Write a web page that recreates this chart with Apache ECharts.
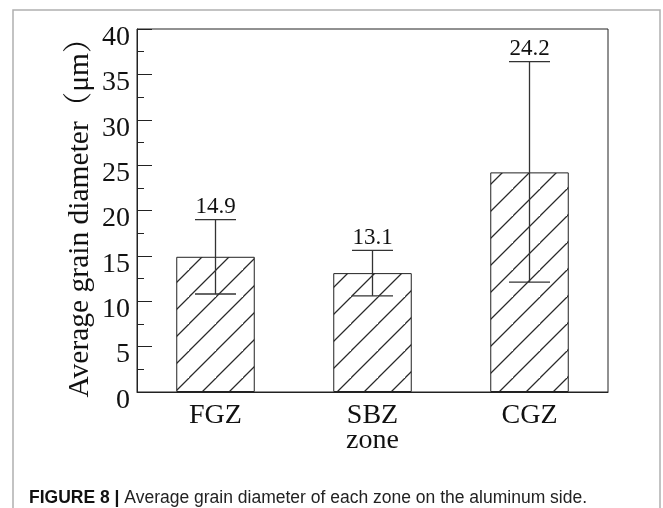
<!DOCTYPE html>
<html>
<head>
<meta charset="utf-8">
<script src="https://cdn.jsdelivr.net/npm/echarts@6/dist/echarts.min.js"></script>
<style>
html,body{margin:0;padding:0;background:#fff;}
#chart{width:663px;height:508px;}
</style>
</head>
<body>
<div id="chart"></div>
<script>
var categories = ['FGZ', 'SBZ', 'CGZ'];
var meanValues = [14.9, 13.1, 24.2];
var errorLow = [10.8, 10.6, 12.1];
var errorHigh = [19.0, 15.6, 36.4];
var yTicks = [0, 5, 10, 15, 20, 25, 30, 35, 40];
var yAxisTitle = 'Average grain diameter（μm）';
var xAxisTitle = 'zone';
var captionBold = 'FIGURE 8 | ';
var captionText = 'Average grain diameter of each zone on the aluminum side.';

var SERIF = "'Liberation Serif','Times New Roman','Noto Serif CJK SC','Noto Sans CJK SC',serif";
var SANS = "'Liberation Sans',Arial,Helvetica,sans-serif";

// hatch pattern tile
var tile = document.createElement('canvas');
var T = 27;
tile.width = T; tile.height = T;
var g = tile.getContext('2d');
g.fillStyle = '#fff';
g.fillRect(0, 0, T, T);
g.strokeStyle = '#2a2a2a';
g.lineWidth = 1.25;
g.beginPath();
g.moveTo(-2, T + 2); g.lineTo(T + 2, -2);
g.moveTo(-2 - T, T + 2); g.lineTo(2, -2);
g.moveTo(T - 2, 2*T + 2); g.lineTo(2*T + 2, T - 2);
g.stroke();

var chart = echarts.init(document.getElementById('chart'), null, {renderer: 'canvas'});

var errData = categories.map(function (c, i) {
  return [i, errorLow[i], errorHigh[i], meanValues[i]];
});

chart.setOption({
  animation: false,
  backgroundColor: '#fff',
  graphic: [
    {type: 'rect', shape: {x: 13, y: 10, width: 647, height: 520}, style: {fill: 'none', stroke: '#b0b0b0', lineWidth: 1.5}, z: -1},
    {type: 'text', left: 29, top: 489, style: {
      text: '{b|' + captionBold + '}{r|' + captionText + '}',
      rich: {
        b: {fontFamily: SANS, fontWeight: 'bold', fontSize: 17.5, fill: '#111'},
        r: {fontFamily: SANS, fontSize: 17.5, fill: '#222'}
      }
    }}
  ],
  grid: {left: 137, top: 29, right: 55, bottom: 116, show: true, borderColor: '#222', borderWidth: 1, backgroundColor: 'transparent'},
  xAxis: {
    type: 'category',
    data: categories,
    axisLine: {lineStyle: {color: '#222', width: 1}},
    axisTick: {show: false},
    axisLabel: {fontFamily: SERIF, fontSize: 28, color: '#111', margin: 10},
    name: xAxisTitle,
    nameLocation: 'middle',
    nameGap: 35,
    nameMoveOverlap: false,
    nameTextStyle: {fontFamily: SERIF, fontSize: 28, color: '#111'}
  },
  yAxis: {
    type: 'value',
    min: 0, max: 40, interval: 5,
    axisLine: {show: true, lineStyle: {color: '#222', width: 1}},
    axisTick: {show: true, inside: true, length: 15, lineStyle: {color: '#222'}},
    minorTick: {show: true, splitNumber: 2, length: 7, lineStyle: {color: '#222'}},
    splitLine: {show: false},
    axisLabel: {
      fontFamily: SERIF, fontSize: 28, color: '#111', margin: 7,
      formatter: function (v) { return yTicks.indexOf(v) >= 0 ? '{a|' + v + '}' : ''; },
      rich: {a: {fontFamily: SERIF, fontSize: 28, color: '#111', padding: [17, 0, 0, 0]}}
    },
    name: yAxisTitle,
    nameLocation: 'middle',
    nameGap: 42,
    nameMoveOverlap: false,
    nameRotate: 90,
    nameTextStyle: {fontFamily: SERIF, fontSize: 29.5, color: '#111'}
  },
  series: [
    {
      type: 'bar',
      data: meanValues,
      barWidth: '50%',
      itemStyle: {color: {image: tile, repeat: 'repeat'}, borderColor: '#222', borderWidth: 1},
      z: 2
    },
    {
      type: 'custom',
      data: errData,
      z: 5,
      renderItem: function (params, api) {
        var x = api.value(0);
        var lo = api.coord([x, api.value(1)]);
        var hi = api.coord([x, api.value(2)]);
        var half = 20.5;
        var st = {stroke: '#333', lineWidth: 1.3};
        return {
          type: 'group',
          children: [
            {type: 'line', shape: {x1: lo[0], y1: lo[1], x2: hi[0], y2: hi[1]}, style: st},
            {type: 'line', shape: {x1: lo[0] - half, y1: lo[1], x2: lo[0] + half, y2: lo[1]}, style: st},
            {type: 'line', shape: {x1: hi[0] - half, y1: hi[1], x2: hi[0] + half, y2: hi[1]}, style: st},
            {type: 'text', x: hi[0], y: hi[1] - 1, style: {
              text: api.value(3).toFixed(1), fontFamily: SERIF, fontSize: 23,
              fill: '#111', align: 'center', verticalAlign: 'bottom'
            }}
          ]
        };
      }
    }
  ]
});
</script>
</body>
</html>
